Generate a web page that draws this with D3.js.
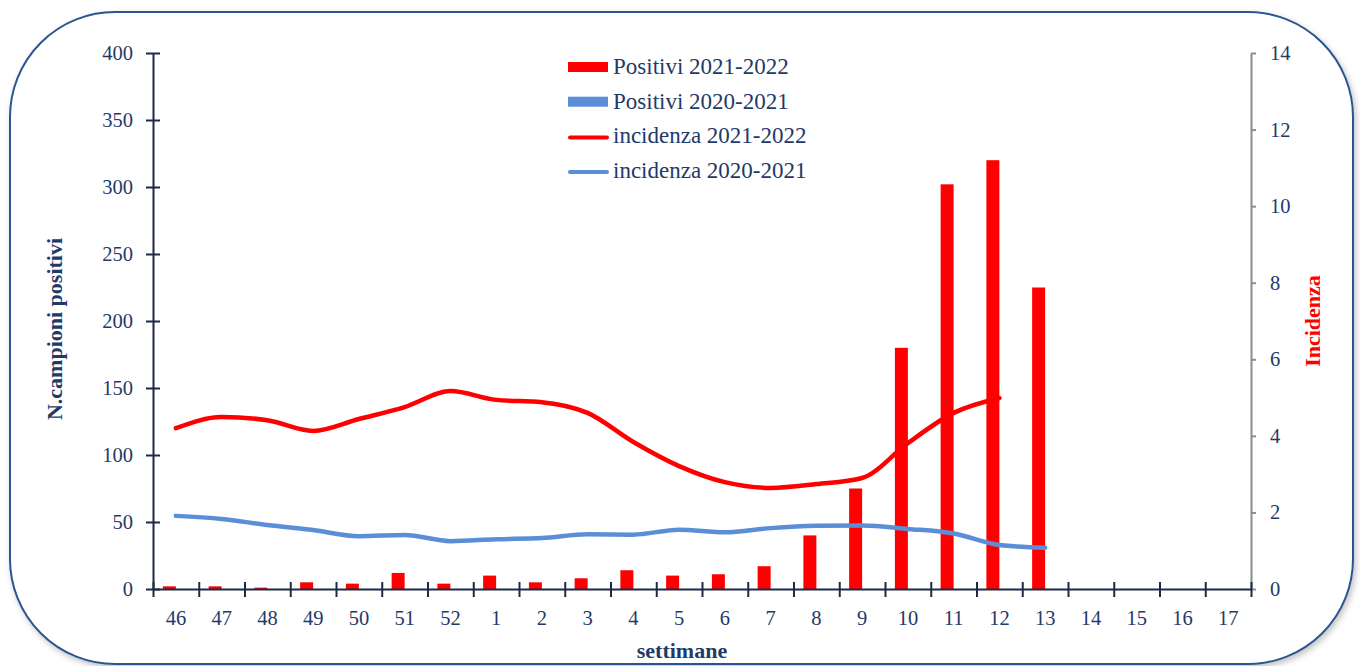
<!DOCTYPE html>
<html>
<head>
<meta charset="utf-8">
<script src="https://cdn.jsdelivr.net/npm/d3@7"></script>
<style>
  body { margin: 0; background: #fff; }
  svg { display: block; }
  text { font-family: "Liberation Serif", "Times New Roman", serif; }
</style>
</head>
<body>
<svg id="chart" width="1360" height="666"></svg>
<script>
// weeks (settimane)
var weeks = ["46","47","48","49","50","51","52","1","2","3","4","5","6","7","8","9","10","11","12","13","14","15","16","17"];

// N. campioni positivi (left axis)
var positivi2122 = [2, 2, 1, 5, 4, 12, 4, 10, 5, 8, 14, 10, 11, 17, 40, 75, 180, 302, 320, 225, null, null, null, null];
var positivi2021 = [0, 0, 0, 0, 0, 0, 0, 0, 0, 0, 0, 0, 0, 0, 0, 0, 0, 0, 0, 0, null, null, null, null];

// incidenza (right axis)
var incidenza2122 = [4.2, 4.49, 4.41, 4.13, 4.44, 4.75, 5.17, 4.94, 4.88, 4.6, 3.84, 3.21, 2.79, 2.64, 2.74, 2.9, 3.81, 4.6, 4.99, null, null, null, null, null];
var incidenza2021 = [1.91, 1.83, 1.67, 1.54, 1.38, 1.41, 1.25, 1.3, 1.33, 1.43, 1.42, 1.55, 1.48, 1.59, 1.65, 1.66, 1.57, 1.45, 1.15, 1.08, null, null, null, null];

var leftTicks = [0, 50, 100, 150, 200, 250, 300, 350, 400];
var rightTicks = [0, 2, 4, 6, 8, 10, 12, 14];

var RED = "#ff0000", BLUE = "#5a8ed6", NAVY = "#1f3a68", AXIS = "#1c2b45";
var L = 153, R = 1251, TOP = 53, BOTTOM = 589;

var svg = d3.select("#chart");

// frame with soft shadow
var defs = svg.append("defs");
var f = defs.append("filter").attr("id", "shadow").attr("x", "-5%").attr("y", "-5%").attr("width", "110%").attr("height", "110%");
f.append("feDropShadow").attr("dx", 2).attr("dy", 3).attr("stdDeviation", 3).attr("flood-color", "#999").attr("flood-opacity", 0.6);

svg.append("rect")
   .attr("x", 10).attr("y", 12).attr("width", 1343).attr("height", 652)
   .attr("rx", 105).attr("ry", 105)
   .attr("fill", "#fff").attr("stroke", "#2a5590").attr("stroke-width", 2)
   .attr("filter", "url(#shadow)");

var x0 = d3.scaleBand().domain(weeks).range([L, R]).paddingInner(0.432).paddingOuter(0.216);
var x1 = d3.scaleBand().domain(["a", "b"]).range([0, x0.bandwidth()]);
var xi = d3.scaleLinear().domain([0, weeks.length]).range([L, R]);
var y = d3.scaleLinear().domain([0, 400]).range([BOTTOM, TOP]);
var y2 = d3.scaleLinear().domain([0, 14]).range([BOTTOM, TOP]);
var cx = function(i) { return x0(weeks[i]) + x0.bandwidth() / 2; };

// bars
var barData = [];
weeks.forEach(function(w, i) {
    if (positivi2122[i] != null) barData.push({ w: w, k: "a", v: positivi2122[i], c: RED });
    if (positivi2021[i] != null) barData.push({ w: w, k: "b", v: positivi2021[i], c: BLUE });
});
svg.append("g").selectAll("rect")
   .data(barData)
   .enter().append("rect")
   .attr("x", function(d) { return x0(d.w) + x1(d.k); })
   .attr("width", x1.bandwidth())
   .attr("y", function(d) { return y(d.v); })
   .attr("height", function(d) { return BOTTOM - y(d.v); })
   .attr("fill", function(d) { return d.c; });

// right axis (grey)
var rAxis = svg.append("g")
   .attr("transform", "translate(" + R + ",0)")
   .call(d3.axisRight(y2).tickValues(rightTicks).tickSizeInner(5).tickSizeOuter(0).tickPadding(14));
rAxis.select(".domain").attr("stroke", "#8c8c8c").attr("stroke-width", 2);
rAxis.selectAll(".tick line").attr("stroke", "#8c8c8c").attr("stroke-width", 2);
rAxis.selectAll(".tick text").attr("fill", NAVY).style("font-size", "20.5px")
   .style("font-family", "Liberation Serif, serif");

// left axis
var lAxis = svg.append("g")
   .attr("transform", "translate(" + L + ",0)")
   .call(d3.axisLeft(y).tickValues(leftTicks).tickSizeInner(7).tickSizeOuter(0).tickPadding(13));
lAxis.select(".domain").attr("stroke", AXIS).attr("stroke-width", 2);
lAxis.selectAll(".tick line").attr("stroke", AXIS).attr("stroke-width", 2).attr("x2", 7).attr("x1", -7);
lAxis.selectAll(".tick text").attr("fill", NAVY).style("font-size", "20.5px")
   .style("font-family", "Liberation Serif, serif");

// bottom axis: tick marks at band boundaries
var bTicks = svg.append("g")
   .attr("transform", "translate(0," + BOTTOM + ")")
   .call(d3.axisBottom(xi).tickValues(d3.range(weeks.length + 1)).tickSizeInner(8).tickSizeOuter(0).tickFormat(""));
bTicks.select(".domain").attr("stroke", AXIS).attr("stroke-width", 2);
bTicks.selectAll(".tick line").attr("stroke", AXIS).attr("stroke-width", 2).attr("y1", -7);

// bottom labels
var bLabels = svg.append("g")
   .attr("transform", "translate(0," + BOTTOM + ")")
   .call(d3.axisBottom(x0).tickSize(0).tickPadding(21));
bLabels.select(".domain").remove();
bLabels.selectAll(".tick text").attr("fill", NAVY).style("font-size", "20.5px")
   .style("font-family", "Liberation Serif, serif");

// lines
var lineGen = d3.line()
    .defined(function(d) { return d.v != null; })
    .x(function(d) { return cx(d.i); })
    .y(function(d) { return y2(d.v); })
    .curve(d3.curveMonotoneX);

[[incidenza2021, BLUE], [incidenza2122, RED]].forEach(function(s) {
    var pts = s[0].map(function(v, i) { return { i: i, v: v }; });
    svg.append("path")
       .attr("d", lineGen(pts))
       .attr("fill", "none")
       .attr("stroke", s[1])
       .attr("stroke-width", 4.5)
       .attr("stroke-linejoin", "round")
       .attr("stroke-linecap", "round");
});

// axis titles
svg.append("text")
   .attr("transform", "translate(62,329) rotate(-90)")
   .attr("text-anchor", "middle")
   .attr("fill", NAVY).style("font-size", "22px").style("font-weight", "bold")
   .text("N.campioni positivi");

svg.append("text")
   .attr("transform", "translate(1320,321) rotate(-90)")
   .attr("text-anchor", "middle")
   .attr("fill", RED).style("font-size", "22px").style("font-weight", "bold")
   .text("Incidenza");

svg.append("text")
   .attr("x", 682).attr("y", 658)
   .attr("text-anchor", "middle")
   .attr("fill", NAVY).style("font-size", "22px").style("font-weight", "bold")
   .text("settimane");

// legend
var legendItems = [
    { label: "Positivi 2021-2022", color: RED, type: "bar" },
    { label: "Positivi 2020-2021", color: BLUE, type: "bar" },
    { label: "incidenza 2021-2022", color: RED, type: "line" },
    { label: "incidenza 2020-2021", color: BLUE, type: "line" }
];
var lg = svg.append("g").selectAll("g")
   .data(legendItems)
   .enter().append("g")
   .attr("transform", function(d, i) { return "translate(568," + (67 + i * 34.7) + ")"; });
lg.filter(function(d) { return d.type == "bar"; }).append("rect")
   .attr("x", 0).attr("y", -5).attr("width", 40).attr("height", 10)
   .attr("fill", function(d) { return d.color; });
lg.filter(function(d) { return d.type == "line"; }).append("line")
   .attr("x1", 2).attr("x2", 39).attr("y1", 1).attr("y2", 1)
   .attr("stroke", function(d) { return d.color; })
   .attr("stroke-width", 4).attr("stroke-linecap", "round");
lg.append("text")
   .attr("x", 45).attr("y", 7)
   .attr("fill", NAVY).style("font-size", "23px")
   .text(function(d) { return d.label; });
</script>
</body>
</html>
